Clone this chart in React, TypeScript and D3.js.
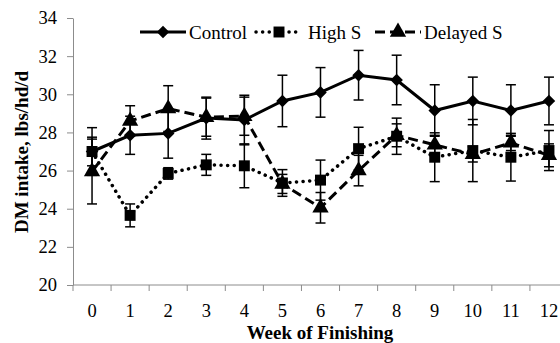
import React from "react";
import * as d3 from "d3";

const weeks = ["0", "1", "2", "3", "4", "5", "6", "7", "8", "9", "10", "11", "12"];
const yTicks = [20, 22, 24, 26, 28, 30, 32, 34];

const control = [27.0, 27.85, 27.95, 28.75, 28.65, 29.65, 30.1, 31.0, 30.75, 29.15, 29.65, 29.15, 29.65];
const controlSE = [1.25, 1.0, 1.3, 1.1, 1.3, 1.35, 1.3, 1.3, 1.3, 1.35, 1.25, 1.35, 1.25];

const highS = [27.0, 23.65, 25.85, 26.3, 26.25, 25.35, 25.5, 27.15, 27.8, 26.7, 27.05, 26.7, 27.05];
const highSSE = [0.75, 0.6, 0.3, 0.55, 1.15, 0.7, 1.05, 1.12, 0.95, 1.28, 1.63, 1.25, 1.05];

const delayedS = [25.95, 28.6, 29.25, 28.8, 28.85, 25.3, 24.05, 26.0, 27.85, 27.35, 26.85, 27.45, 26.8];
const delayedSSE = [1.7, 0.8, 1.2, 1.0, 1.0, 0.5, 0.8, 0.8, 0.6, 0.5, 0.4, 0.4, 0.6];

const W = 560;
const H = 343;
const margin = { top: 18, left: 73, bottom: 58 };
const plotRight = 568;
const FONT = "'Liberation Serif', 'Times New Roman', serif";

function App() {
  const ref = React.useRef<SVGSVGElement | null>(null);

  React.useEffect(() => {
    const svg = d3.select(ref.current);
    svg.selectAll("*").remove();

    const x = d3.scaleBand().domain(weeks).range([margin.left, plotRight]);
    const y = d3.scaleLinear().domain([20, 34]).range([H - margin.bottom, margin.top]);
    const cx = (i: number) => (x(weeks[i]) as number) + x.bandwidth() / 2;

    // axes
    const yAxis = svg
      .append("g")
      .attr("transform", `translate(${margin.left},0)`)
      .call(d3.axisLeft(y).tickValues(yTicks).tickSize(6).tickSizeOuter(0).tickPadding(10));
    yAxis.selectAll("path,line").attr("stroke", "#8c8c8c");
    yAxis
      .selectAll("text")
      .attr("font-family", FONT)
      .attr("font-size", 18.5)
      .attr("fill", "#000");

    const xAxis = svg.append("g").attr("transform", `translate(0,${H - margin.bottom})`);
    xAxis
      .append("line")
      .attr("x1", margin.left)
      .attr("x2", plotRight)
      .attr("stroke", "#8c8c8c");
    xAxis
      .selectAll(".tk")
      .data(d3.range(weeks.length + 1))
      .join("line")
      .attr("x1", (i) => margin.left + i * x.bandwidth())
      .attr("x2", (i) => margin.left + i * x.bandwidth())
      .attr("y1", 0)
      .attr("y2", 6)
      .attr("stroke", "#8c8c8c");
    xAxis
      .selectAll(".lb")
      .data(weeks)
      .join("text")
      .attr("x", (d, i) => cx(i))
      .attr("y", 32)
      .attr("text-anchor", "middle")
      .attr("font-family", FONT)
      .attr("font-size", 18.5)
      .text((d) => d);

    svg
      .append("text")
      .attr("x", 320)
      .attr("y", 339)
      .attr("text-anchor", "middle")
      .attr("font-family", FONT)
      .attr("font-weight", "bold")
      .attr("font-size", 19)
      .text("Week of Finishing");

    svg
      .append("text")
      .attr("transform", "translate(28,152) rotate(-90)")
      .attr("text-anchor", "middle")
      .attr("font-family", FONT)
      .attr("font-weight", "bold")
      .attr("font-size", 19)
      .text("DM intake, lbs/hd/d");

    const series = [
      { name: "Control", values: control, se: controlSE, dash: null as string | null, marker: "diamond" },
      { name: "High S", values: highS, se: highSSE, dash: "0.1 6.5", marker: "square" },
      { name: "Delayed S", values: delayedS, se: delayedSSE, dash: "10 5", marker: "triangle" },
    ];

    const symbolFor = (m: string) =>
      m === "diamond"
        ? d3.symbol().type(d3.symbolDiamond2).size(100)
        : m === "square"
        ? d3.symbol().type(d3.symbolSquare).size(120)
        : d3.symbol().type(d3.symbolTriangle).size(115);

    const line = d3
      .line<number>()
      .x((d, i) => cx(i))
      .y((d) => y(d));

    series.forEach((s) => {
      const g = svg.append("g");
      // error bars
      const eb = g.selectAll(".eb").data(s.values).join("g");
      eb.append("line")
        .attr("x1", (d, i) => cx(i))
        .attr("x2", (d, i) => cx(i))
        .attr("y1", (d, i) => y(d - s.se[i]))
        .attr("y2", (d, i) => y(d + s.se[i]))
        .attr("stroke", "#000")
        .attr("stroke-width", 1.5);
      [1, -1].forEach((sign) => {
        eb.append("line")
          .attr("x1", (d, i) => cx(i) - 5)
          .attr("x2", (d, i) => cx(i) + 5)
          .attr("y1", (d, i) => y(d + sign * s.se[i]))
          .attr("y2", (d, i) => y(d + sign * s.se[i]))
          .attr("stroke", "#000")
          .attr("stroke-width", 1.5);
      });
      g.append("path")
        .attr("d", line(s.values))
        .attr("fill", "none")
        .attr("stroke", "#000")
        .attr("stroke-width", s.dash === "0.1 6.5" ? 3.5 : 3)
        .attr("stroke-linecap", s.dash === "0.1 6.5" ? "round" : "butt")
        .attr("stroke-dasharray", s.dash);
      g.selectAll(".mk")
        .data(s.values)
        .join("path")
        .attr("transform", (d, i) => `translate(${cx(i)},${y(d)})`)
        .attr("d", symbolFor(s.marker)() as string)
        .attr("fill", "#000");
    });

    // legend
    const legendItems = [
      { x0: 140, text: 189 },
      { x0: 256, text: 308 },
      { x0: 375, text: 424 },
    ];
    const ly = 32;
    series.forEach((s, k) => {
      const it = legendItems[k];
      const lg = svg.append("g");
      lg.append("line")
        .attr("x1", it.x0)
        .attr("x2", it.x0 + 46)
        .attr("y1", ly)
        .attr("y2", ly)
        .attr("stroke", "#000")
        .attr("stroke-width", s.dash === "0.1 6.5" ? 3.5 : 3)
        .attr("stroke-linecap", s.dash === "0.1 6.5" ? "round" : "butt")
        .attr("stroke-dasharray", s.dash);
      lg.append("path")
        .attr("transform", `translate(${it.x0 + 23},${ly})`)
        .attr("d", symbolFor(s.marker)() as string)
        .attr("fill", "#000");
      lg.append("text")
        .attr("x", it.text)
        .attr("y", ly + 6.5)
        .attr("font-family", FONT)
        .attr("font-size", 19)
        .text(s.name);
    });
  }, []);

  return (
    <svg
      ref={ref}
      width={W}
      height={H}
      style={{ position: "absolute", left: 0, top: 0, background: "#fff" }}
    />
  );
}

export default App;
